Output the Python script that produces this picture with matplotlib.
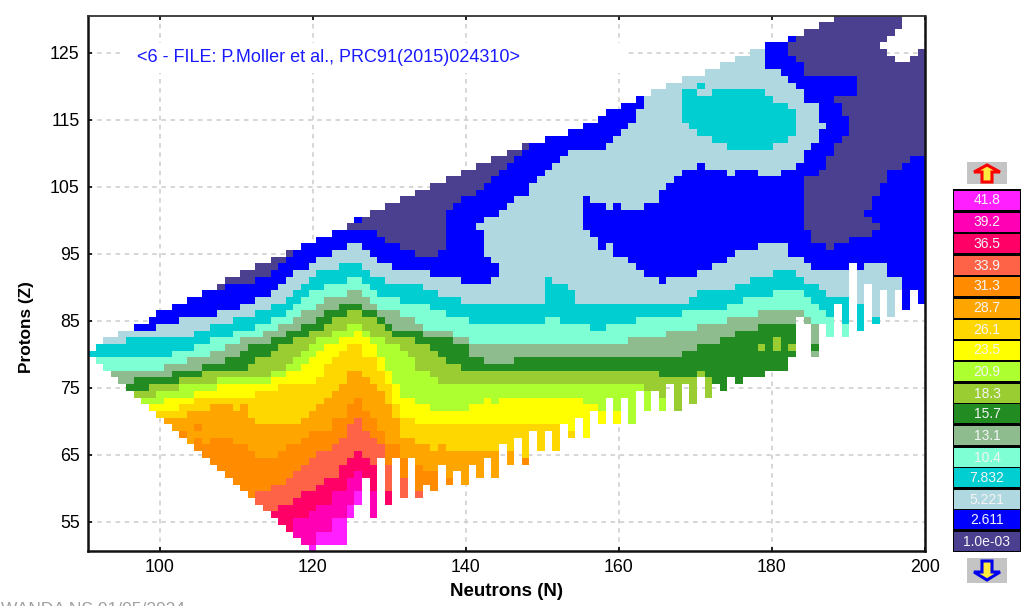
import numpy as np
import matplotlib
matplotlib.use("Agg")
import matplotlib.pyplot as plt
from matplotlib.colors import ListedColormap, BoundaryNorm
from matplotlib.patches import Rectangle, Polygon

plt.rcParams['font.family'] = ['Liberation Sans', 'DejaVu Sans']

legend_labels = ['1.0e-03', '2.611', '5.221', '7.832', '10.4', '13.1', '15.7', '18.3', '20.9',
                 '23.5', '26.1', '28.7', '31.3', '33.9', '36.5', '39.2', '41.8']
level_colors = ['#4b3f8f', '#0000ff', '#b0d8e0', '#00ced1', '#7fffd4', '#8fbc8f', '#228b22', '#9acd32',
                '#adff2f', '#ffff00', '#ffd700', '#ffa500', '#ff8c00', '#ff6347', '#ff0066', '#ff00b4', '#ff1fff']

n_first = 90
bottom_z = [80, 79, 78, 77, 76, 75, 74, 73, 72, 71, 70, 69, 68, 67, 66, 65, 64, 63, 62, 61,
            60, 59, 58, 57, 56, 55, 54, 53, 52, 51, 52, 52, 52, 52, 56, 58, 62, 56, 65, 58,
            65, 59, 65, 59, 61, 60, 64, 61, 63, 61, 64, 62, 65, 62, 67, 64, 68, 64, 69, 66,
            69, 66, 70, 68, 71, 68, 72, 70, 74, 70, 74, 70, 75, 72, 75, 72, 76, 72, 76, 73,
            77, 74, 76, 75, 77, 76, 77, 77, 77, 78, 78, 78, 80, 86, 85, 80, 85, 83, 88, 83,
            94, 84, 91, 85, 90, 86, 90, 87, 90, 88]
top_steps = [(90, 80), (91, 81), (92, 82), (94, 83), (96, 84), (98, 85), (99, 86), (101, 87), (103, 88),
             (105, 89), (107, 90), (108, 91), (110, 92), (112, 93), (114, 94), (116, 95), (118, 96),
             (120, 97), (122, 98), (124, 99), (125, 100), (127, 101), (129, 102), (131, 103), (133, 104),
             (135, 105), (137, 106), (139, 107), (141, 108), (143, 109), (145, 110), (147, 111), (150, 112),
             (153, 113), (155, 114), (157, 115), (158, 116), (160, 117), (162, 118), (164, 119), (166, 120),
             (168, 121), (171, 122), (173, 123), (175, 124), (177, 125), (179, 126), (182, 127), (184, 128),
             (186, 129), (188, 130)]

# Upper edge (Z) of each level, as (first N, Z) stairs; 0 means the level is absent from that N on
cyan_top = [(90, 80), (91, 81), (95, 82), (104, 83), (106, 84), (109, 85), (112, 86), (114, 87), (116, 88),
            (117, 89), (118, 90), (119, 91), (120, 92), (123, 93), (126, 92), (127, 91), (129, 90), (134, 89),
            (136, 88), (139, 87), (150, 91), (151, 90), (153, 89), (154, 87), (169, 88), (170, 89), (175, 90),
            (177, 91), (180, 92), (183, 91), (184, 90), (186, 89), (187, 88), (190, 0), (191, 87), (192, 0),
            (193, 85), (194, 0)]
aqua_top = [(91, 79), (101, 80), (104, 81), (106, 82), (109, 83), (112, 84), (114, 85), (116, 86), (117, 87),
            (118, 88), (119, 89), (121, 90), (124, 91), (126, 90), (127, 89), (128, 88), (131, 87), (135, 86),
            (137, 85), (140, 84), (150, 85), (152, 84), (156, 83), (158, 84), (162, 85), (168, 86), (174, 87),
            (176, 88), (180, 89), (184, 88), (185, 87), (186, 86), (187, 85), (188, 0), (189, 84), (190, 0)]
sage_top = [(93, 77), (100, 78), (103, 79), (106, 80), (108, 81), (110, 82), (113, 83), (115, 84), (117, 85),
            (118, 86), (120, 87), (121, 88), (124, 89), (126, 88), (127, 87), (128, 86), (131, 85), (133, 84),
            (134, 83), (138, 82), (140, 81), (161, 82), (166, 83), (170, 84), (174, 85), (178, 86), (184, 85),
            (185, 84), (186, 0)]
forest_top = [(95, 75), (96, 76), (101, 77), (105, 78), (108, 79), (110, 80), (111, 81), (114, 82), (116, 83),
              (118, 84), (120, 85), (121, 86), (123, 87), (126, 86), (128, 85), (129, 84), (130, 83), (134, 82),
              (138, 81), (140, 79), (142, 78), (146, 79), (168, 80), (170, 81), (173, 82), (175, 83), (178, 84),
              (183, 0)]
olive_top = [(96, 74), (98, 75), (102, 76), (105, 77), (111, 78), (112, 79), (114, 80), (115, 81), (117, 82),
             (119, 83), (121, 84), (122, 85), (124, 86), (126, 85), (128, 84), (129, 83), (130, 82), (133, 81),
             (135, 80), (136, 79), (137, 78), (139, 77), (165, 76), (170, 77), (171, 76), (172, 0)]
lime_top = [(97, 73), (99, 74), (102, 75), (107, 76), (114, 77), (116, 78), (117, 79), (118, 80), (119, 81),
            (120, 82), (122, 83), (124, 84), (126, 83), (127, 82), (129, 81), (131, 80), (132, 79), (133, 77),
            (135, 76), (136, 75), (163, 74), (165, 73), (166, 0)]
yellow_top = [(98, 72), (100, 73), (104, 74), (107, 75), (114, 76), (116, 77), (118, 78), (119, 79), (120, 80),
              (121, 81), (123, 82), (125, 83), (126, 82), (127, 81), (128, 79), (129, 77), (130, 75), (131, 73),
              (133, 72), (135, 71), (140, 72), (142, 73), (143, 72), (144, 73), (155, 72), (157, 71), (158, 0),
              (159, 71), (160, 0)]
gold_top = [(99, 71), (102, 72), (104, 73), (112, 74), (115, 75), (120, 76), (121, 78), (122, 79), (123, 80),
            (124, 81), (126, 79), (128, 77), (129, 75), (130, 72), (131, 70), (133, 69), (153, 68), (154, 0)]
orange_top = [(100, 70), (103, 71), (106, 72), (109, 71), (110, 72), (111, 70), (112, 69), (118, 70), (119, 71),
              (120, 72), (121, 73), (122, 74), (123, 75), (124, 77), (126, 76), (127, 75), (128, 74), (129, 72),
              (130, 70), (131, 67), (133, 66), (135, 65), (136, 66), (137, 65), (144, 0), (145, 65), (146, 0)]
dkorange_top = [(102, 68), (103, 0), (104, 67), (105, 66), (106, 67), (109, 66), (111, 65), (112, 64), (115, 65),
                (116, 66), (118, 67), (119, 68), (122, 70), (124, 72), (125, 73), (126, 71), (127, 70), (128, 68),
                (129, 66), (131, 64), (132, 0), (133, 63), (134, 62), (136, 0), (137, 61), (138, 0), (147, 64),
                (148, 0)]
tomato_top = [(112, 59), (114, 60), (116, 61), (117, 62), (118, 63), (119, 64), (120, 65), (122, 66), (123, 67),
              (124, 69), (125, 70), (126, 68), (127, 67), (128, 66), (129, 63), (130, 0), (131, 61), (132, 0),
              (133, 59), (134, 0)]
red_top = [(114, 56), (115, 57), (117, 58), (118, 59), (120, 60), (121, 61), (123, 63), (124, 64), (125, 65),
           (126, 64), (127, 63), (128, 0), (129, 59), (130, 0)]
pink_top = [(117, 55), (119, 56), (120, 57), (122, 59), (124, 61), (125, 62), (126, 0), (127, 59), (128, 0)]
magenta_top = [(119, 51), (120, 53), (122, 55), (124, 57), (125, 59), (126, 0)]

# Blocks above the light blue base: (first N, last N, lowest Z, highest Z)
blue_blocks = [(96, 98, 84, 130), (99, 101, 85, 130), (102, 106, 86, 130), (107, 109, 87, 130), (110, 111, 88, 130),
               (112, 113, 89, 130), (114, 114, 90, 130), (115, 115, 91, 130), (116, 116, 92, 130), (117, 118, 93, 130),
               (119, 119, 94, 130), (120, 121, 95, 130), (122, 123, 96, 130), (124, 125, 97, 130), (126, 126, 96, 130),
               (127, 127, 95, 130), (128, 129, 94, 130), (130, 134, 93, 130), (135, 138, 92, 130), (139, 141, 91, 130),
               (142, 142, 91, 94), (142, 142, 101, 130), (143, 143, 92, 93), (143, 143, 101, 130), (144, 144, 102, 130),
               (145, 145, 103, 130), (146, 147, 104, 130), (148, 148, 106, 130), (149, 149, 107, 130), (150, 150, 108, 130),
               (151, 151, 109, 130), (152, 152, 110, 130), (153, 157, 111, 130), (158, 158, 112, 130), (159, 159, 113, 130),
               (160, 160, 114, 130), (161, 161, 115, 130), (162, 162, 117, 130),
               (155, 155, 99, 103), (156, 156, 98, 102), (157, 157, 96, 102), (158, 158, 97, 101), (159, 159, 95, 102),
               (160, 160, 95, 101), (161, 161, 94, 101), (162, 162, 93, 101), (163, 164, 92, 102), (165, 165, 91, 104),
               (166, 166, 92, 105), (167, 167, 92, 106), (168, 169, 92, 107), (170, 170, 93, 108), (171, 171, 93, 107),
               (172, 173, 94, 107), (174, 174, 95, 106), (175, 177, 96, 107), (178, 180, 97, 106), (181, 181, 97, 107),
               (182, 182, 95, 107), (183, 183, 95, 108), (184, 184, 94, 110), (185, 185, 93, 111), (186, 186, 93, 113),
               (186, 186, 115, 121), (187, 189, 93, 121), (190, 190, 94, 121), (191, 191, 93, 121), (192, 194, 94, 121),
               (195, 196, 92, 121), (197, 197, 87, 121), (198, 198, 90, 121), (199, 199, 88, 121),
               (179, 180, 123, 126), (181, 181, 122, 126), (182, 182, 121, 127), (183, 183, 120, 123), (184, 185, 118, 121)]
dark_blocks = [(107, 107, 90, 90), (108, 109, 91, 91), (110, 111, 91, 92), (112, 113, 92, 93), (114, 114, 93, 94),
               (115, 115, 94, 94), (116, 116, 95, 95), (124, 125, 99, 99), (126, 127, 99, 130), (128, 128, 98, 130),
               (129, 130, 97, 130), (131, 132, 96, 130), (133, 135, 95, 130), (136, 136, 96, 130), (137, 137, 102, 130),
               (138, 138, 103, 130), (139, 140, 104, 130), (141, 141, 105, 130), (142, 142, 106, 130), (143, 143, 107, 130),
               (144, 144, 108, 130), (145, 145, 109, 130), (146, 146, 110, 130), (147, 147, 111, 130),
               (188, 199, 130, 130), (186, 199, 129, 129), (184, 199, 128, 128), (183, 199, 127, 127), (182, 199, 125, 126),
               (183, 199, 124, 124), (184, 199, 122, 123), (191, 199, 119, 121), (188, 199, 118, 118), (189, 199, 116, 117),
               (190, 199, 113, 115), (189, 199, 112, 112), (188, 199, 110, 111), (187, 197, 109, 109), (187, 196, 108, 108),
               (186, 194, 107, 107), (184, 194, 106, 106), (184, 193, 104, 105), (184, 192, 102, 103), (184, 191, 101, 101),
               (184, 192, 100, 100), (184, 193, 99, 99), (185, 192, 98, 98), (185, 189, 97, 97), (187, 187, 96, 96)]
cyan_blocks = [(170, 170, 120, 120), (168, 169, 119, 119), (172, 178, 119, 119), (168, 179, 118, 118), (168, 181, 117, 117),
               (168, 182, 115, 116), (169, 182, 114, 114), (170, 182, 113, 113), (172, 181, 112, 112), (174, 179, 111, 111)]
empty_blocks = [(197, 199, 129, 130), (196, 199, 128, 128), (195, 199, 127, 127), (194, 199, 126, 126),
                (195, 198, 125, 125), (196, 197, 124, 124)]
single_cells = [(104, 69, 12), (141, 99, 2), (178, 81, 7), (180, 81, 7), (180, 82, 7), (182, 81, 7), (185, 81, 6)]

ticks_n = [100, 120, 140, 160, 180, 200]
ticks_z = [55, 65, 75, 85, 95, 105, 115, 125]


def stairs(steps, n):
    value = 0
    for first, z in steps:
        if n >= first:
            value = z
    return value


cols = np.arange(n_first, 200)
rows = np.arange(50, 131)
grid = np.full((len(rows), len(cols)), np.nan)
level_steps = [(3, cyan_top), (4, aqua_top), (5, sage_top), (6, forest_top), (7, olive_top), (8, lime_top),
               (9, yellow_top), (10, gold_top), (11, orange_top), (12, dkorange_top), (13, tomato_top),
               (14, red_top), (15, pink_top), (16, magenta_top)]
for i, n in enumerate(cols):
    low, high = bottom_z[i], stairs(top_steps, n)
    for j, z in enumerate(rows):
        if low <= z <= high:
            grid[j, i] = 2
    for level, steps in level_steps:
        t = stairs(steps, n)
        for j, z in enumerate(rows):
            if low <= z <= min(t, high):
                grid[j, i] = level


def paint(blocks, level):
    for n0, n1, z0, z1 in blocks:
        for n in range(n0, n1 + 1):
            i = n - n_first
            for z in range(z0, z1 + 1):
                if not np.isnan(grid[z - 50, i]):
                    grid[z - 50, i] = level


paint(blue_blocks, 1)
paint(cyan_blocks, 3)
paint(dark_blocks, 0)
paint(empty_blocks, np.nan)
for n, z, level in single_cells:
    grid[z - 50, n - n_first] = level

fig = plt.figure(figsize=(10.26, 6.06), dpi=100)
ax = fig.add_axes([88 / 1026, 1 - 551 / 606, (925 - 88) / 1026, (551 - 16) / 606])
cmap = ListedColormap(level_colors)
norm = BoundaryNorm(np.arange(-0.5, 17.5), cmap.N)
edges_x = 90.59 + 0.995 * (np.arange(len(cols) + 1))
edges_y = np.arange(len(rows) + 1) + 50 - 0.43
ax.pcolormesh(edges_x, edges_y, np.ma.masked_invalid(grid), cmap=cmap, norm=norm, zorder=3, antialiased=False,
              linewidth=0)
ax.set_xlim(90.6, 200)
ax.set_ylim(50.67, 130.5)
ax.set_xticks(ticks_n)
ax.set_yticks(ticks_z)
ax.grid(True, color='#cccccc', linestyle=(0, (3, 3)), linewidth=1.1, zorder=1)
ax.set_axisbelow(True)
ax.tick_params(axis='both', direction='in', length=3, width=1.2, labelsize=12.8, top=True, right=False, pad=6)
for s in ax.spines.values():
    s.set_linewidth(1.8)
    s.set_color('#111111')
    s.set_zorder(5)
ax.spines['top'].set_linewidth(1.3)
ax.spines['top'].set_color('#333333')

ov = fig.add_axes([0, 0, 1, 1], facecolor='none')
ov.set_xlim(0, 1026)
ov.set_ylim(606, 0)
ov.axis('off')
ov.add_patch(Rectangle((120, 43), 507, 30, facecolor='white', edgecolor='none'))
ov.text(137, 57, '<6 - FILE: P.Moller et al., PRC91(2015)024310>', color='#1a1aff', fontsize=13, va='center', ha='left')
ov.text(507, 592, 'Neutrons (N)', fontweight='bold', fontsize=13.5, ha='center', va='center')
ov.text(27, 327, 'Protons (Z)', fontweight='bold', fontsize=12.4, ha='center', va='center', rotation=90)
ov.text(1, 602, 'WANDA NS 01/05/2024', color='#a0a0a0', fontsize=12.5, va='top', ha='left')

box_tops = [531, 509, 489, 467, 447, 425, 403, 383, 361, 340, 319, 298, 276, 255, 233, 212, 190]
ov.add_patch(Rectangle((953, 189), 68, 363, facecolor='black', edgecolor='none'))
for top, col, lab in zip(box_tops, level_colors, legend_labels):
    ov.add_patch(Rectangle((954, top + 1), 66, 18.5, facecolor=col, edgecolor='none'))
    ov.text(987, top + 10.5, lab, color='#f4f4f4', fontsize=10, ha='center', va='center')

ov.add_patch(Rectangle((967, 162), 40, 22, facecolor='#c4c4c4', edgecolor='none'))
ov.add_patch(Polygon([(987, 165), (1000, 172), (992, 172), (992, 182), (982, 182), (982, 172), (974, 172)],
                     facecolor='#ffe840', edgecolor='#ff0000', linewidth=2.2))
ov.add_patch(Rectangle((967, 558), 40, 25, facecolor='#c4c4c4', edgecolor='none'))
ov.add_patch(Polygon([(987, 580), (1000, 572), (992, 572), (992, 561), (982, 561), (982, 572), (974, 572)],
                     facecolor='#ffe840', edgecolor='#0000ee', linewidth=2.2))

fig.savefig('out.png', dpi=100)
